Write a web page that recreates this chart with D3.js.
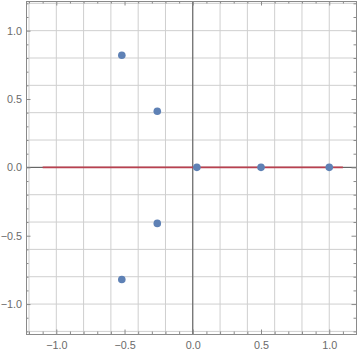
<!DOCTYPE html>
<html>
<head>
<meta charset="utf-8">
<script src="https://cdn.jsdelivr.net/npm/d3@7"></script>
<style>
  body { margin: 0; background: #fff; }
  text { font-family: "Liberation Sans", Arial, sans-serif; }
</style>
</head>
<body>
<div id="chart"></div>
<script>
// data
var pointsX = [-0.52, -0.26, -0.26, -0.52, 0.03, 0.5, 1.0];
var pointsY = [0.82, 0.41, -0.41, -0.82, 0, 0, 0];
var lineX = [-1.1, 1.1];
var lineY = [0, 0];
var majorTicks = [-1.0, -0.5, 0.0, 0.5, 1.0];
var gridValues = [-1.2, -1.0, -0.8, -0.6, -0.4, -0.2, 0.0, 0.2, 0.4, 0.6, 0.8, 1.0, 1.2];

var w = 360, h = 353;
var margin = { top: 1, right: 4, bottom: 19, left: 26 };
var width = w - margin.left - margin.right;
var height = h - margin.top - margin.bottom;

var svg = d3.select("#chart")
  .append("svg")
    .attr("width", w)
    .attr("height", h)
  .append("g")
    .attr("transform", "translate(" + margin.left + "," + margin.top + ")");

// scales
var x = d3.scaleLinear().domain([-1.222, 1.196]).range([0, width]);
var y = d3.scaleLinear().domain([-1.219, 1.217]).range([height, 0]);

// grid
svg.append("g").selectAll("line")
  .data(gridValues.filter(function(d) { return d > x.domain()[0] && d < x.domain()[1]; }))
  .enter().append("line")
    .attr("x1", function(d) { return x(d); })
    .attr("x2", function(d) { return x(d); })
    .attr("y1", 0).attr("y2", height)
    .attr("stroke", "#cfcfcf").attr("stroke-width", 1);
svg.append("g").selectAll("line")
  .data(gridValues.filter(function(d) { return d > y.domain()[0] && d < y.domain()[1]; }))
  .enter().append("line")
    .attr("y1", function(d) { return y(d); })
    .attr("y2", function(d) { return y(d); })
    .attr("x1", 0).attr("x2", width)
    .attr("stroke", "#cfcfcf").attr("stroke-width", 1);

// axes through origin
svg.append("line")
  .attr("x1", x(0)).attr("x2", x(0)).attr("y1", 0).attr("y2", height)
  .attr("stroke", "#555").attr("stroke-width", 1);
svg.append("line")
  .attr("x1", 0).attr("x2", width).attr("y1", y(0)).attr("y2", y(0))
  .attr("stroke", "#555").attr("stroke-width", 1);

// frame axes
function styleAxis(g, labels) {
  g.select(".domain").attr("stroke", "#8a8a8a");
  g.selectAll(".tick line").attr("stroke", "#8a8a8a");
  g.selectAll(".tick text").attr("fill", "#6a6a6a").style("font-size", "10.8px");
  if (!labels) g.selectAll(".tick text").remove();
}
var minor = d3.range(-12, 13).map(function(i) { return i / 10; })
  .filter(function(d) { return Math.abs(d * 2 - Math.round(d * 2)) > 1e-6; });
var fmt = d3.format(".1f");

function addAxes(axisFn, scale, transform, labels, pad) {
  var gMin = svg.append("g").attr("transform", transform)
    .call(axisFn(scale).tickValues(minor.filter(function(d) { return d >= scale.domain()[0] && d <= scale.domain()[1]; })).tickSize(-2.5).tickFormat(""));
  styleAxis(gMin, false);
  var gMaj = svg.append("g").attr("transform", transform)
    .call(axisFn(scale).tickValues(majorTicks).tickSize(-4.5).tickPadding(pad).tickFormat(function(d) { return fmt(d).replace("-", "\u2212"); }));
  styleAxis(gMaj, labels);
}
addAxes(d3.axisBottom, x, "translate(0," + height + ")", true, 7);
addAxes(d3.axisTop, x, "translate(0,0)", false, 3);
addAxes(d3.axisLeft, y, "translate(0,0)", true, 4);
addAxes(d3.axisRight, y, "translate(" + width + ",0)", false, 3);

// red line
svg.append("path")
  .datum(d3.zip(lineX, lineY))
  .attr("d", d3.line().x(function(d) { return x(d[0]); }).y(function(d) { return y(d[1]); }))
  .attr("stroke", "#b9404f").attr("stroke-width", 1.6).attr("fill", "none");

// points
svg.selectAll("circle")
  .data(d3.zip(pointsX, pointsY))
  .enter().append("circle")
    .attr("cx", function(d) { return x(d[0]); })
    .attr("cy", function(d) { return y(d[1]); })
    .attr("r", 3.8)
    .attr("fill", "#5e81b5");
</script>
</body>
</html>
